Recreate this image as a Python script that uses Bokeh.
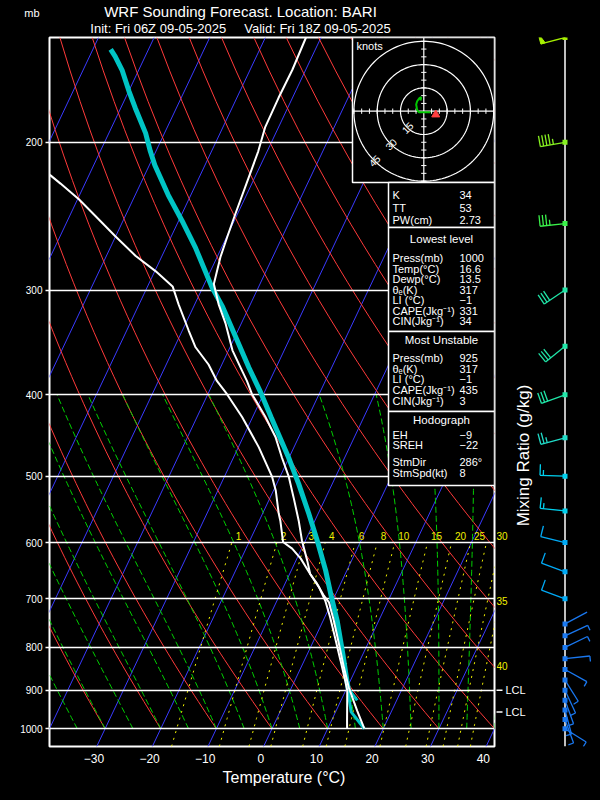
import numpy as np
from bokeh.plotting import figure
from bokeh.models import (Range1d, LinearScale, FixedTicker, CustomJSTickFormatter, PrintfTickFormatter,
                          GlobalInlineStyleSheet)
from bokeh.layouts import row, column
from bokeh.embed import file_html
from bokeh.resources import INLINE
from bokeh.core.properties import value

FONT = "Liberation Sans"

# ---------------- data ----------------
title_line1 = "WRF Sounding Forecast. Location: BARI"
title_line2 = "Init: Fri 06Z 09-05-2025\u00a0\u00a0\u00a0\u00a0\u00a0Valid: Fri 18Z 09-05-2025"

isobar_levels = [1000, 900, 800, 700, 600, 500, 400, 300, 200]
temp_tick_labels = [-30, -20, -10, 0, 10, 20, 30, 40]

temp_p = [1000, 974, 952, 918, 893, 845, 792, 743, 707, 694, 672, 654, 630, 597, 565, 530, 501, 475,
          449, 425, 399, 385, 374, 354, 329, 312, 295, 274, 259, 243, 220, 205, 192, 177, 164, 150]
temp_t = [16.6, 15.1, 13.8, 11.8, 10.3, 7.7, 4.8, 1.9, -0.5, -2.0, -4.2, -6.3, -8.0, -10.6, -12.9, -15.8,
          -18.4, -21.3, -24.2, -27.7, -32.1, -34.1, -35.9, -39.3, -42.8, -45.7, -48.3, -49.4, -49.9, -50.4,
          -51.1, -51.6, -52.4, -52.5, -52.4, -52.7]

dewp_p = [1000, 978, 901, 877, 829, 779, 737, 704, 678, 654, 627, 610, 599, 565, 554, 520, 501, 462,
          425, 399, 385, 368, 351, 335, 312, 297, 285, 273, 259, 245, 234, 224, 219, 205]
dewp_t = [13.5, 12.8, 10.3, 9.1, 6.5, 3.6, 1.0, -1.3, -3.6, -6.3, -9.3, -11.7, -13.9, -16.2, -17.1, -19.6,
          -21.4, -26.3, -31.9, -36.6, -39.5, -42.4, -46.2, -48.9, -52.9, -55.5, -59.8, -64.8, -70.0, -75.3,
          -79.7, -84.4, -86.9, -94.0]

parcel_p = [900, 877, 815, 743, 697, 648, 600, 554, 511, 475, 425, 397, 371, 341, 314, 298, 267, 248,
            231, 213, 205, 195, 182, 174, 164, 158, 155]
parcel_t = [10.5, 9.4, 6.4, 2.5, -0.5, -3.8, -7.6, -11.7, -16.0, -20.1, -26.7, -30.7, -34.9, -39.9, -44.8,
            -48.3, -54.7, -59.4, -64.1, -69.0, -71.0, -73.4, -77.4, -79.9, -83.0, -85.4, -86.8]
sfc_parcel_p = [1000, 955, 925, 900]
sfc_parcel_t = [16.6, 12.8, 11.5, 10.5]
mu_parcel_p = [925, 900]
mu_parcel_t = [12.9, 10.7]

lcl_p = [955, 900]

mix_label_values = [1, 2, 3, 4, 6, 8, 10, 15, 20, 25, 30]
mix_edge_values = [35, 40]
mix_edge_p = [705, 843]

wind_p = [150, 200, 250, 300, 350, 400, 450, 500, 550, 600, 650, 700, 750, 775, 800, 825, 850, 875,
          900, 925, 950, 975, 1000]
wind_dir = [255, 260, 264, 236, 231, 250, 255, 272, 276, 284, 290, 290, 62, 65, 64, 84, 119, 148,
            155, 160, 165, 160, 122]
wind_spd = [50, 45, 35, 30, 30, 30, 25, 15, 15, 10, 10, 10, 3, 5, 5, 5, 5, 5, 5, 5, 5, 5, 5]

hodo_u = [4.3, -3.2, -4.3, -4.9, -4.3, -2.8, -1.7, -2.1]
hodo_v = [-0.6, -0.6, 0.9, 4.3, 6.4, 8.4, 9.0, 6.9]
hodo_rings = [15, 30, 45]
storm_dir = 286
storm_spd = 8

idx_names = ["K", "TT", "PW(cm)"]
idx_vals = ["34", "53", "2.73"]
low_names = ["Press(mb)", "Temp(°C)", "Dewp(°C)", "θₑ(K)", "LI (°C)", "CAPE(Jkg⁻¹)", "CIN(Jkg⁻¹)"]
low_vals = ["1000", "16.6", "13.5", "317", "−1", "331", "34"]
mu_names = ["Press(mb)", "θₑ(K)", "LI (°C)", "CAPE(Jkg⁻¹)", "CIN(Jkg⁻¹)"]
mu_vals = ["925", "317", "−1", "435", "3"]
hod_names = ["EH", "SREH", "StmDir", "StmSpd(kt)"]
hod_vals = ["−9", "−22", "286°", "8"]

# ---------------- layout constants ----------------
SKEW = 31.0            # deg C of x-shift per unit ln(1000/p)
P_BOT, P_TOP = 1050, 150
FRAME_W, FRAME_H = 445, 709
HEAD_H = 36
LEFT, TOP, BOTTOM = 49, 1, 52
PAGE_X0, PAGE_X1, PAGE_Y0, PAGE_Y1 = 49, 494, 37, 746     # frame in page pixels
XPX = FRAME_W / 80.0                                      # px per skewed degree
MID_X0, MID_X1 = PAGE_X1 + 2, 536                          # middle strip (labels)
BARB_X0, BARB_X1 = MID_X1, 598
HODO_CX, HODO_CY, HODO_SCALE = 423.3, 110.7, 23.3 / 15.0  # px per knot


def skew_x(t, pres):
    return np.asarray(t, dtype=float) + SKEW * np.log(1000.0 / np.asarray(pres, dtype=float))


def t_from_w(w, pres):
    e = w * pres / (622.0 + w)
    a = np.log(e / 6.112)
    return 243.5 * a / (17.67 - a)


def moist_adiabat(tw_c, pres):
    Rd, cp, Lv, eps = 287.04, 1005.7, 2.501e6, 0.622

    def dtdp(T, p):
        tc = T - 273.15
        es = 6.112 * np.exp(17.67 * tc / (tc + 243.5))
        rs = eps * es / (p - es)
        return (Rd * T + Lv * rs) / (p * (cp + Lv * Lv * rs * eps / (Rd * T * T)))

    T = tw_c + 273.15
    out = [T]
    for i in range(1, len(pres)):
        p0, p1 = pres[i - 1], pres[i]
        k1 = dtdp(T, p0)
        k2 = dtdp(T + k1 * (p1 - p0), p1)
        T = T + 0.5 * (k1 + k2) * (p1 - p0)
        out.append(T)
    return np.array(out) - 273.15


def bare(fig):
    fig.grid.visible = False
    return fig


COMMON = dict(output_backend="svg", toolbar_location=None, background_fill_color="black",
              border_fill_color="black")

# ---------------- header (titles) ----------------
hd = bare(figure(x_range=Range1d(0, BARB_X1), y_range=Range1d(HEAD_H, 0), width=BARB_X1, height=HEAD_H,
                 min_border_left=0, min_border_right=0, min_border_top=0, min_border_bottom=0,
                 x_axis_location=None, y_axis_location=None, outline_line_color=None, **COMMON))
hd.text(x=[240, 240], y=[10.5, 27.5], text=[title_line1, title_line2], text_color="white",
        text_font=value(FONT), text_font_size=["15px", "13px"], text_align="center", text_baseline="middle")
hd.text(x=[31.5], y=[12], text=["mb"], text_color="white", text_font=value(FONT), text_font_size="11px",
        text_align="center", text_baseline="middle")

# ---------------- main skew-T ----------------
p = figure(x_range=Range1d(-40, 40), y_range=Range1d(P_BOT, P_TOP), y_axis_type="log",
           frame_width=FRAME_W, frame_height=FRAME_H,
           min_border_left=LEFT, min_border_right=MID_X0 - PAGE_X1, min_border_top=TOP,
           min_border_bottom=BOTTOM, outline_line_color="white", outline_line_width=2, **COMMON)
p.grid.visible = False

p.yaxis.ticker = FixedTicker(ticks=isobar_levels)
p.yaxis.formatter = PrintfTickFormatter(format="%d")
p.yaxis.axis_line_color = None
p.yaxis.major_tick_line_color = "white"
p.yaxis.major_tick_line_width = 1.5
p.yaxis.major_tick_out = 4
p.yaxis.major_tick_in = 0
p.yaxis.major_label_standoff = 3
p.yaxis.major_label_text_color = "white"
p.yaxis.major_label_text_font = FONT
p.yaxis.major_label_text_font_size = "10px"

LABEL_SHIFT = 2.0
p.xaxis.ticker = FixedTicker(ticks=[t - LABEL_SHIFT for t in temp_tick_labels])
p.xaxis.formatter = CustomJSTickFormatter(
    code="const t = Math.round(tick + %s); return t < 0 ? '\u2212' + (-t) : String(t);" % LABEL_SHIFT)
p.xaxis.axis_line_color = None
p.xaxis.major_tick_line_color = None
p.xaxis.minor_tick_line_color = None
p.xaxis.major_tick_out = 0
p.xaxis.major_tick_in = 0
p.xaxis.major_label_standoff = 7
p.xaxis.major_label_text_color = "white"
p.xaxis.major_label_text_font = FONT
p.xaxis.major_label_text_font_size = "12px"
p.xaxis.axis_label = "\u2002\u2002\u2002Temperature (°C)"
p.xaxis.axis_label_standoff = 3
p.xaxis.axis_label_text_color = "white"
p.xaxis.axis_label_text_font = FONT
p.xaxis.axis_label_text_font_style = "normal"
p.xaxis.axis_label_text_font_size = "16px"

p.extra_x_ranges = {"px": Range1d(PAGE_X0, PAGE_X1),
                    "hx": Range1d((PAGE_X0 - HODO_CX) / HODO_SCALE, (PAGE_X1 - HODO_CX) / HODO_SCALE)}
p.extra_y_ranges = {"py": Range1d(PAGE_Y1, PAGE_Y0),
                    "hy": Range1d(-(PAGE_Y1 - HODO_CY) / HODO_SCALE, (HODO_CY - PAGE_Y0) / HODO_SCALE)}
p.extra_x_scales = {"px": LinearScale(), "hx": LinearScale()}
p.extra_y_scales = {"py": LinearScale(), "hy": LinearScale()}
PX = dict(x_range_name="px", y_range_name="py")
HX = dict(x_range_name="hx", y_range_name="hy")

# isotherms
iso_t = np.arange(-100, 50, 10)
p.segment(x0=skew_x(iso_t, P_BOT), y0=[P_BOT] * len(iso_t), x1=skew_x(iso_t, P_TOP), y1=[P_TOP] * len(iso_t),
          line_color="#3a3aff", line_width=1)

# dry adiabats
pp = np.linspace(1000, P_TOP, 60)
xs, ys = [], []
for th in range(-40, 180, 10):
    t = (th + 273.15) * (pp / 1000.0) ** 0.286 - 273.15
    xs.append(list(skew_x(t, pp)))
    ys.append(list(pp))
p.multi_line(xs, ys, line_color="#ff3a3a", line_width=1)

# moist adiabats
pm_ = np.linspace(1000, 400, 61)
xs, ys = [], []
for tw in range(-40, 45, 5):
    t = moist_adiabat(tw, pm_)
    xs.append(list(skew_x(t, pm_)))
    ys.append(list(pm_))
p.multi_line(xs, ys, line_color="#00d000", line_width=1, line_dash="6 3")

# mixing ratio lines
pw = np.linspace(P_BOT, 600, 30)
xs, ys = [], []
for w in mix_label_values + mix_edge_values:
    xs.append(list(skew_x(t_from_w(w, pw), pw)))
    ys.append(list(pw))
p.multi_line(xs, ys, line_color="#f0f000", line_width=1, line_dash="2 5")

LABEL_P = 590.0
MR_OFF = 2
MR_W = 12      # approx. width of a two-digit label, px
X_MID0 = -40 + (MID_X0 - PAGE_X0) / XPX
mr_x = [float(skew_x(t_from_w(w, LABEL_P), LABEL_P)) for w in mix_label_values]
mr_txt = [str(w) for w in mix_label_values]
inside = [(x, t) for x, t in zip(mr_x, mr_txt) if x + (MR_OFF + MR_W) / XPX <= 40.0]
outside = [t for x, t in zip(mr_x, mr_txt) if x + (MR_OFF + MR_W) / XPX > 40.0]
MR_STYLE = dict(text_color="#f0f000", text_font=value(FONT), text_font_size="10px",
                text_align="left", text_baseline="middle", x_offset=MR_OFF)
p.text(x=[s[0] for s in inside], y=[LABEL_P] * len(inside), text=[s[1] for s in inside], **MR_STYLE)

# isobars
p.hspan(y=isobar_levels, line_color="white", line_width=1.6)

# parcel paths
p.line(skew_x(parcel_t, parcel_p), parcel_p, line_color="#00c4c4", line_width=5)
p.line(skew_x(sfc_parcel_t, sfc_parcel_p), sfc_parcel_p, line_color="#00c4c4", line_width=3)
p.line(skew_x(mu_parcel_t, mu_parcel_p), mu_parcel_p, line_color="#00c4c4", line_width=3)

# temperature / dewpoint
p.line(skew_x(temp_t, temp_p), temp_p, line_color="white", line_width=2)
p.line(skew_x(dewp_t, dewp_p), dewp_p, line_color="white", line_width=2)

# hodograph panel
p.quad(left=[352], right=[PAGE_X1], top=[PAGE_Y0], bottom=[182], fill_color="black",
       line_color="white", line_width=1.5, **PX)
ang = np.linspace(0, 2 * np.pi, 145)
p.multi_line([list(r * np.cos(ang)) for r in hodo_rings], [list(r * np.sin(ang)) for r in hodo_rings],
             line_color="white", line_width=1.2, **HX)
umin, umax = (352 - HODO_CX) / HODO_SCALE, (PAGE_X1 - HODO_CX) / HODO_SCALE
vmin, vmax = -(182 - HODO_CY) / HODO_SCALE, (HODO_CY - PAGE_Y0) / HODO_SCALE
p.segment(x0=[umin, 0], y0=[0, vmin], x1=[umax, 0], y1=[0, vmax], line_color="white", line_width=1.2, **HX)
tk = [k for k in range(-45, 50, 5) if k != 0]
tl = 1.7
p.segment(x0=tk, y0=[-tl] * len(tk), x1=tk, y1=[tl] * len(tk), line_color="white", line_width=1, **HX)
p.segment(x0=[-tl] * len(tk), y0=tk, x1=[tl] * len(tk), y1=tk, line_color="white", line_width=1, **HX)
d45 = np.sqrt(0.5)
p.text(x=[-r * d45 for r in hodo_rings], y=[-r * d45 for r in hodo_rings], text=[str(r) for r in hodo_rings],
       angle=np.pi / 4, text_color="white", text_font=value(FONT), text_font_size="10px",
       text_align="center", text_baseline="middle", **HX)
p.line(hodo_u, hodo_v, line_color="#00c800", line_width=2, **HX)
sm_u = -storm_spd * np.sin(np.radians(storm_dir))
sm_v = -storm_spd * np.cos(np.radians(storm_dir))
p.scatter([sm_u], [sm_v], marker="triangle", size=8, fill_color="#ff4040", line_color="#ff4040", **HX)
p.text(x=[356], y=[45], text=["knots"], text_color="white", text_font=value(FONT), text_font_size="11px",
       text_align="left", text_baseline="middle", **PX)

# index tables
BOX_L = 388
boxes = [(182, 227), (227, 331), (331, 411), (411, 485)]
p.quad(left=[BOX_L] * 4, right=[PAGE_X1] * 4, top=[b[0] for b in boxes], bottom=[b[1] for b in boxes],
       fill_color="black", line_color="white", line_width=1.5, **PX)

NAME_X, VAL_X = 392, 459
tx, ty, tt = [], [], []
rows = [(idx_names, idx_vals, [194, 207, 219.5]),
        (low_names, low_vals, [257.7 + 10.5 * i for i in range(len(low_names))]),
        (mu_names, mu_vals, [357.3 + 10.8 * i for i in range(len(mu_names))]),
        (hod_names, hod_vals, [434, 444.5, 461.7, 472.7])]
for names, vals, yy in rows:
    for n, v, y in zip(names, vals, yy):
        tx += [NAME_X, VAL_X]
        ty += [y, y]
        tt += [n, v]
p.text(x=tx, y=ty, text=tt, text_color="white", text_font=value(FONT), text_font_size="11px",
       text_align="left", text_baseline="middle", **PX)
hx_c = (BOX_L + PAGE_X1) / 2
p.text(x=[hx_c] * 3, y=[238, 339.3, 419.3], text=["Lowest level", "Most Unstable", "Hodograph"],
       text_color="white", text_font=value(FONT), text_font_size="11.5px",
       text_align="center", text_baseline="middle", **PX)

# ---------------- middle strip: LCL marks, edge labels, mixing-ratio title ----------------
pmid = bare(figure(x_range=Range1d(MID_X0, MID_X1), y_range=p.y_range, y_axis_type="log",
                   frame_width=MID_X1 - MID_X0, frame_height=FRAME_H,
                   min_border_left=0, min_border_right=0, min_border_top=TOP, min_border_bottom=BOTTOM,
                   x_axis_location=None, y_axis_location=None, outline_line_color=None, **COMMON))
pmid.extra_x_ranges = {"X": Range1d(X_MID0, -40 + (MID_X1 - PAGE_X0) / XPX)}
pmid.extra_y_ranges = {"py": Range1d(PAGE_Y1, PAGE_Y0)}
pmid.extra_x_scales = {"X": LinearScale()}
pmid.extra_y_scales = {"py": LinearScale()}
pmid.segment(x0=[MID_X0 - 2] * len(lcl_p), y0=lcl_p, x1=[502] * len(lcl_p), y1=lcl_p,
             line_color="white", line_width=1.5)
pmid.text(x=[505] * len(lcl_p), y=lcl_p, text=["LCL"] * len(lcl_p), text_color="white",
          text_font=value(FONT), text_font_size="11px", text_align="left", text_baseline="middle")
# labels whose text would run past the frame edge are set just outside it
if outside:
    pmid.text(x=[X_MID0] * len(outside), y=[LABEL_P] * len(outside), text=outside,
              x_range_name="X", **dict(MR_STYLE, x_offset=0))
pmid.text(x=[40.0] * len(mix_edge_values), y=mix_edge_p, text=[str(w) for w in mix_edge_values],
          x_range_name="X", **MR_STYLE)
pmid.text(x=[522.5], y=[455], text=["Mixing Ratio (g/kg)"], angle=np.pi / 2, text_color="white",
          text_font=value(FONT), text_font_size="17px", text_align="center", text_baseline="middle",
          y_range_name="py")

# ---------------- wind barb column ----------------
STAFF_X = 564.5
pb = bare(figure(x_range=Range1d(BARB_X0, BARB_X1), y_range=p.y_range, y_axis_type="log",
                 frame_width=BARB_X1 - BARB_X0, frame_height=FRAME_H,
                 min_border_left=0, min_border_right=0, min_border_top=TOP, min_border_bottom=BOTTOM,
                 x_axis_location=None, y_axis_location=None, outline_line_color=None, **COMMON))

K = FRAME_H / np.log(P_BOT / P_TOP)   # px per unit ln(p)


def to_data(ox, oy, pres):
    return STAFF_X + ox, pres * np.exp(oy / K)


def speed_color(s):
    if s >= 50:
        return "#a6f000"
    if s >= 45:
        return "#86f020"
    if s >= 35:
        return "#3af04a"
    if s >= 30:
        return "#20e6a8"
    if s >= 25:
        return "#20dcc8"
    if s >= 15:
        return "#00d0ee"
    if s >= 10:
        return "#00aaf6"
    return "#1a78f0"


STAFF, FULL, HALF, GAP, PBASE = 25.0, 11.0, 5.5, 3.3, 4.5
lx, ly, lc = [], [], []
px_, py_, pc = [], [], []
for pr, dr, sp in zip(wind_p, wind_dir, wind_spd):
    col = speed_color(sp)
    dx, dy = np.sin(np.radians(dr)), -np.cos(np.radians(dr))
    fx, fy = -dy, dx
    tx0, ty0 = STAFF * dx, STAFF * dy
    a, b = to_data(0, 0, pr)
    c, d = to_data(tx0, ty0, pr)
    lx.append([a, c]); ly.append([b, d]); lc.append(col)
    n_pen = sp // 50
    rem = sp - 50 * n_pen
    n_full = rem // 10
    n_half = (rem - 10 * n_full) // 5
    pos = 0.0
    for _ in range(n_pen):
        bx, by = tx0 - pos * dx, ty0 - pos * dy
        pts = [(bx, by), (bx + FULL * fx, by + FULL * fy), (bx - PBASE * dx, by - PBASE * dy)]
        dd = [to_data(u, v, pr) for u, v in pts]
        px_.append([q[0] for q in dd]); py_.append([q[1] for q in dd]); pc.append(col)
        pos += PBASE + 1.5
    for k in range(n_full + n_half):
        ln_ = FULL if k < n_full else HALF
        bx, by = tx0 - pos * dx, ty0 - pos * dy
        a, b = to_data(bx, by, pr)
        c, d = to_data(bx + ln_ * fx, by + ln_ * fy, pr)
        lx.append([a, c]); ly.append([b, d]); lc.append(col)
        pos += GAP

pb.segment(x0=[STAFF_X], y0=[P_BOT], x1=[STAFF_X], y1=[P_TOP], line_color="white", line_width=1.5)
pb.multi_line(lx, ly, line_color=lc, line_width=1.3)
if px_:
    pb.patches(px_, py_, fill_color=pc, line_color=pc)
pb.scatter([STAFF_X] * len(wind_p), wind_p, size=5, marker="square",
           fill_color=[speed_color(s) for s in wind_spd], line_color=None)

BLACK = {"background-color": "black"}
body_css = GlobalInlineStyleSheet(css="html, body { background-color: black; }")
layout = column(hd, row(p, pmid, pb, spacing=0, styles=BLACK), spacing=0, styles=BLACK,
                stylesheets=[body_css])
open("out.html", "w").write(file_html(layout, INLINE))
